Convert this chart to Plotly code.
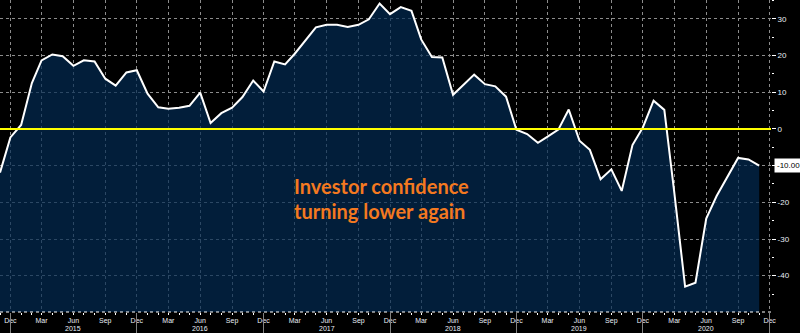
import pandas as pd
import plotly.graph_objects as go

# Sentix-style investor confidence, monthly, Nov 2014 - Nov 2020
start_month = "2014-11-01"
end_month = "2020-11-01"
values = [
    -11.9, -2.3,
    1.1, 12.5, 18.7, 20.3, 19.8, 17.2, 18.7, 18.4, 13.7, 11.8, 15.4, 16.0,
    9.6, 5.9, 5.5, 5.8, 6.3, 9.9, 1.6, 4.3, 5.8, 8.7, 13.2, 10.2,
    18.4, 17.6, 20.5, 24.0, 27.7, 28.4, 28.4, 27.8, 28.4, 29.9, 34.2, 31.3,
    33.2, 32.2, 24.4, 19.6, 19.5, 9.3, 12.1, 14.8, 12.2, 11.6, 8.8, -0.2,
    -1.4, -3.8, -2.1, -0.2, 5.3, -3.2, -5.7, -13.7, -11.0, -16.9, -4.4, 0.4,
    7.7, 5.2, -17.5, -43.0, -41.9, -24.4, -18.3, -13.1, -7.9, -8.3, -10.0,
]
years = ["2015", "2016", "2017", "2018", "2019", "2020"]
y_tick_vals = [-40, -30, -20, -10, 0, 10, 20, 30]
y_tick_text = ["-40", "-30", "-20", "", "0", "10", "20", "30"]
last_label = "-10.00"
note_lines = ["Investor confidence", "turning lower again"]
y_min, y_max = -49.9, 35.15

dates = pd.date_range(start_month, end_month, freq="MS")
x_range = [start_month, "2020-12-05"]

fig = go.Figure()
# baseline for the area fill
fig.add_trace(go.Scatter(x=dates, y=[y_min] * len(dates), mode="lines",
                         line=dict(width=0), hoverinfo="skip", showlegend=False))
fig.add_trace(go.Scatter(x=dates, y=values, mode="lines",
                         line=dict(color="white", width=2),
                         fill="tonexty", fillcolor="rgba(3,43,83,0.7)",
                         showlegend=False))
# invisible trace to carry the long year-tick axis
fig.add_trace(go.Scatter(x=dates, y=values, xaxis="x2", mode="lines",
                         line=dict(width=0), opacity=0, hoverinfo="skip",
                         showlegend=False))

tick_font = dict(family="Liberation Sans, Arial, sans-serif", size=8, color="#e8eef6")
x_font = dict(family="Liberation Sans, Arial, sans-serif", size=7, color="#e8eef6")

fig.update_layout(
    width=800, height=333,
    margin=dict(l=0, r=29, t=0, b=21),
    paper_bgcolor="black", plot_bgcolor="black",
    xaxis=dict(
        type="date", range=x_range, tickformat="%b", dtick="M3",
        tick0="2014-12-01", ticks="outside", ticklen=2, tickcolor="white",
        tickfont=x_font, showgrid=True, gridcolor="rgb(140,140,140)",
        griddash="dot", gridwidth=1, zeroline=False, showline=False,
        ticklabelstandoff=0,
        minor=dict(dtick="M1", ticks="outside", ticklen=2, tickcolor="white",
                   showgrid=False),
    ),
    xaxis2=dict(
        type="date", range=x_range, overlaying="x", anchor="y", side="bottom",
        dtick="M12", tick0="2014-12-01", ticks="outside", ticklen=21,
        tickcolor="rgb(130,130,130)", showticklabels=False, showgrid=False,
        zeroline=False, showline=False,
    ),
    yaxis=dict(
        side="right", range=[y_min, y_max], tickmode="array",
        tickvals=y_tick_vals, ticktext=y_tick_text,
        ticks="outside", ticklen=4, tickcolor="white", tickfont=tick_font,
        showgrid=True, gridcolor="rgb(140,140,140)", griddash="dot",
        gridwidth=1, zeroline=False, showline=False,
        minor=dict(dtick=5, tick0=0, ticks="outside", ticklen=2,
                   tickcolor="white", showgrid=False),
    ),
    showlegend=False,
)

# zero reference line
fig.add_shape(type="line", xref="paper", x0=0, x1=1, yref="y", y0=0, y1=0,
              line=dict(color="#ffff00", width=2), layer="above")
# dotted bottom axis line
fig.add_shape(type="line", xref="paper", x0=0, x1=1, yref="paper", y0=0, y1=0,
              line=dict(color="white", width=1, dash="dot"), layer="above")

# year labels under the June ticks
for yr in years:
    fig.add_annotation(x=f"{yr}-06-01", xref="x", y=0, yref="paper",
                       yshift=-21, text=yr, showarrow=False,
                       font=x_font, yanchor="bottom", borderpad=0)

# last value tag
fig.add_annotation(x=1, xref="paper", y=values[-1], yref="y", text=last_label,
                   showarrow=False, xanchor="left", xshift=3,
                   bgcolor="white", borderpad=2,
                   font=dict(family="Liberation Sans, Arial, sans-serif",
                             size=8, color="black"))

# commentary
for i, line in enumerate(note_lines):
    fig.add_annotation(x=0.379, xref="paper", y=1 - (186 + 25 * i) / 312,
                       yref="paper", text=f"<b>{line}</b>", showarrow=False,
                       xanchor="left", yanchor="middle",
                       font=dict(family="Lato, Open Sans, sans-serif",
                                 size=20, color="#f47920"))

fig.write_html("out.html")
